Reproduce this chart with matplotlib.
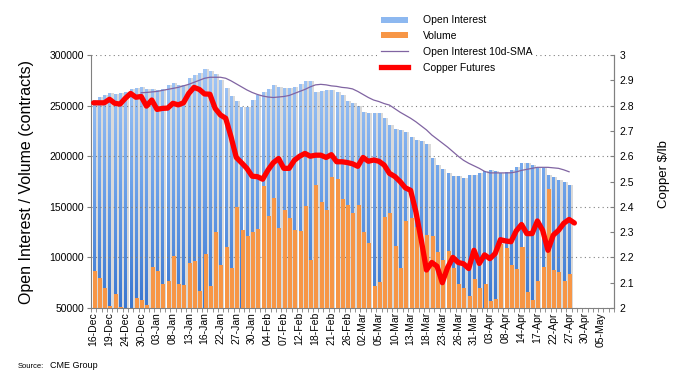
import numpy as np
import matplotlib
matplotlib.use("Agg")
import matplotlib.pyplot as plt
from matplotlib.path import Path
from matplotlib.patches import PathPatch, Patch
from matplotlib.lines import Line2D
from matplotlib.colors import LinearSegmentedColormap

plt.rcParams['font.family'] = ['Liberation Sans', 'DejaVu Sans']

# trading days 16-Dec .. 07-May, one label every 3rd day
n_days = 99
xlabels = ['16-Dec', '19-Dec', '24-Dec', '30-Dec', '03-Jan', '08-Jan', '13-Jan', '16-Jan',
           '22-Jan', '27-Jan', '30-Jan', '04-Feb', '07-Feb', '12-Feb', '18-Feb', '21-Feb',
           '26-Feb', '02-Mar', '05-Mar', '10-Mar', '13-Mar', '18-Mar', '23-Mar', '26-Mar',
           '31-Mar', '03-Apr', '08-Apr', '14-Apr', '17-Apr', '22-Apr', '27-Apr', '30-Apr',
           '05-May']

open_interest = [255500, 258100, 260400, 262400, 261400, 262400, 263400, 266400, 267300, 268300,
                 266400, 266000, 265400, 266000, 270300, 272000, 270300, 270300, 277000, 280200,
                 281900, 285800, 284200, 281200, 275300, 267000, 259400, 254500, 248800, 248200,
                 255500, 260400, 263000, 266400, 270300, 268600, 267000, 267600, 268600, 271300,
                 274300, 274300, 263700, 264300, 265000, 265400, 263000, 260400, 254800, 252200,
                 249500, 243900, 242900, 242900, 242300, 237400, 230700, 226500, 225800, 224100,
                 218600, 215900, 215200, 211600, 197800, 191200, 187200, 183000, 180300, 180300,
                 178000, 181300, 181300, 183000, 185200, 186200, 185600, 183600, 184500, 186200,
                 189500, 192800, 192800, 191200, 187900, 187900, 181300, 179600, 176300, 174600,
                 171400]

volume = [86600, 79700, 69800, 51700, 63500, 51000, 40000, 38000, 59600, 57600,
          52700, 90200, 86300, 73400, 76400, 101100, 73400, 72500, 94200, 96500,
          66800, 103100, 71500, 125200, 92200, 110000, 89300, 149600, 126900, 121000,
          124900, 127800, 170400, 140700, 158500, 128800, 146600, 138700, 126900, 125900,
          150600, 97500, 171400, 154600, 146600, 179300, 177300, 157500, 151600, 143700,
          151600, 124900, 113900, 71500, 75400, 139700, 143700, 111000, 89300, 135800,
          138700, 130000, 110000, 121900, 120900, 105100, 97200, 106100, 89300, 73400,
          69500, 61600, 78400, 69500, 73400, 56600, 58600, 113000, 109000, 92200,
          88300, 110000, 65500, 57600, 76400, 90200, 167400, 87300, 85300, 76400,
          83300]

# 10-day SMA of open interest, starts on the 10th day
sma_start = 9
oi_sma = [262700, 263000, 263500, 264000, 265000, 266000, 267000, 268000, 269500, 271000,
          273000, 275000, 277000, 278000, 278000, 278000, 277000, 274500, 271500, 268500,
          265500, 263000, 261000, 259500, 258500, 258000, 258500, 259000, 260000, 262000,
          264000, 266000, 268500, 270500, 271000, 270500, 269500, 269000, 268000, 267500,
          266500, 264000, 261000, 258000, 255500, 254000, 252000, 250500, 247000, 243500,
          240500, 237500, 234000, 230000, 226000, 221000, 217000, 213000, 209000, 204500,
          200000, 196000, 193000, 190500, 188000, 185000, 183500, 183500, 183500, 183500,
          183600, 184500, 186000, 187000, 188000, 189000, 189000, 189000, 188500, 188000,
          186500, 184600]

copper = [2.811, 2.811, 2.811, 2.825, 2.809, 2.806, 2.829, 2.848, 2.833, 2.836,
          2.798, 2.822, 2.785, 2.789, 2.790, 2.809, 2.803, 2.811, 2.848, 2.872,
          2.864, 2.846, 2.845, 2.789, 2.763, 2.750, 2.677, 2.595, 2.574, 2.552,
          2.521, 2.519, 2.509, 2.545, 2.574, 2.591, 2.552, 2.552, 2.584, 2.600,
          2.611, 2.600, 2.604, 2.604, 2.595, 2.606, 2.578, 2.578, 2.575, 2.570,
          2.560, 2.595, 2.580, 2.585, 2.580, 2.565, 2.532, 2.520, 2.500, 2.475,
          2.465, 2.380, 2.270, 2.150, 2.180, 2.165, 2.100, 2.160, 2.200, 2.180,
          2.175, 2.156, 2.228, 2.176, 2.210, 2.195, 2.215, 2.270, 2.265, 2.262,
          2.305, 2.330, 2.294, 2.294, 2.344, 2.307, 2.228, 2.288, 2.307, 2.335,
          2.350, 2.336]

fig = plt.figure(figsize=(6.82, 3.79), dpi=100)
ax = fig.add_axes([91 / 682, 1 - 308 / 379, 523 / 682, 253 / 379])
ax2 = ax.twinx()

x = np.arange(len(open_interest))
grey = '#808080'

# bar shadows, gradient OI bars, volume bars
ax.bar(x + 0.57, open_interest, width=0.4, color='#dadada', zorder=1, linewidth=0)
oi_bars = ax.bar(x + 0.08, open_interest, width=0.57, color='none', linewidth=0, zorder=2)
paths = [b.get_path().transformed(b.get_patch_transform()) for b in oi_bars]
clip = PathPatch(Path.make_compound_path(*paths), transform=ax.transData,
                 facecolor='none', edgecolor='none')
ax.add_patch(clip)
cmap = LinearSegmentedColormap.from_list('oi', ['#3a77d0', '#6ea3ea', '#a9cbf7'])
grad = np.linspace(0, 1, 256).reshape(-1, 1)
im = ax.imshow(grad, extent=(-0.5, n_days - 0.5, 50000, 300000), origin='lower',
               aspect='auto', cmap=cmap, zorder=2)
im.set_clip_path(clip)

for yv in range(50000, 300001, 50000):
    ax.axhline(yv, color=grey, lw=0.8, ls=(0, (1, 3)), zorder=2.5)

ax.bar(x + 0.18, volume, width=0.76, color='#f79646', linewidth=0, zorder=3)

x_sma = np.arange(sma_start, sma_start + len(oi_sma))
ax.plot(x_sma, oi_sma, color='#8064a2', lw=0.9, zorder=4)

ax2.plot(np.arange(len(copper)), copper, color='#ff0000', lw=3.8,
         solid_joinstyle='round', solid_capstyle='round', zorder=5)

ax.set_xlim(-0.5, n_days - 0.5)
ax.set_ylim(50000, 300000)
ax2.set_ylim(2, 3)

ax.set_yticks(range(50000, 300001, 50000))
ax.set_yticklabels([str(v) for v in range(50000, 300001, 50000)], fontsize=7.5)
ax2.set_yticks(np.arange(2, 3.01, 0.1))
ax2.set_yticklabels(['2', '2.1', '2.2', '2.3', '2.4', '2.5', '2.6', '2.7', '2.8', '2.9', '3'],
                    fontsize=7.5)
ax.set_xticks(np.arange(0, n_days, 3))
ax.set_xticklabels(xlabels, rotation=90, fontsize=7.5)
ax.set_xticks(np.arange(-0.5, n_days, 1), minor=True)
ax.tick_params(axis='x', which='major', length=0, pad=3)
ax.tick_params(axis='x', which='minor', length=3, color=grey, direction='out')
ax.tick_params(axis='y', length=3, color=grey, direction='out', pad=2)
ax2.tick_params(axis='y', length=3, color=grey, direction='in', pad=4)

for a in (ax, ax2):
    a.spines['top'].set_visible(False)
    for s in ('left', 'right', 'bottom'):
        a.spines[s].set_color(grey)
ax2.spines['left'].set_visible(False)
ax2.spines['bottom'].set_visible(False)

ax.set_ylabel('Open Interest / Volume (contracts)', fontsize=11.5, labelpad=11)
ax2.set_ylabel('Copper $/lb', fontsize=9.5)
ax2.yaxis.set_label_coords(1.085, 0.53)

handles = [Patch(facecolor='#8db8f0', edgecolor='none'),
           Patch(facecolor='#f79646', edgecolor='none'),
           Line2D([], [], color='#8064a2', lw=0.9),
           Line2D([], [], color='#ff0000', lw=3.8)]
labels = ['Open Interest', 'Volume', 'Open Interest 10d-SMA', 'Copper Futures']
leg = ax2.legend(handles, labels, loc='upper left', bbox_to_anchor=(372 / 682, 1 - 6 / 379),
                 bbox_transform=fig.transFigure, fontsize=7.5, frameon=True,
                 facecolor='white', edgecolor='none', framealpha=1, fancybox=False,
                 handlelength=2.6, handleheight=0.5, handletextpad=1.35, labelspacing=0.55,
                 borderpad=0.4)
leg.set_zorder(10)

fig.text(18 / 682, 1 - 366 / 379, 'Source:', fontsize=5.5, va='center')
fig.text(50 / 682, 1 - 366 / 379, 'CME Group', fontsize=6.5, va='center')

fig.savefig('out.png', dpi=100)
